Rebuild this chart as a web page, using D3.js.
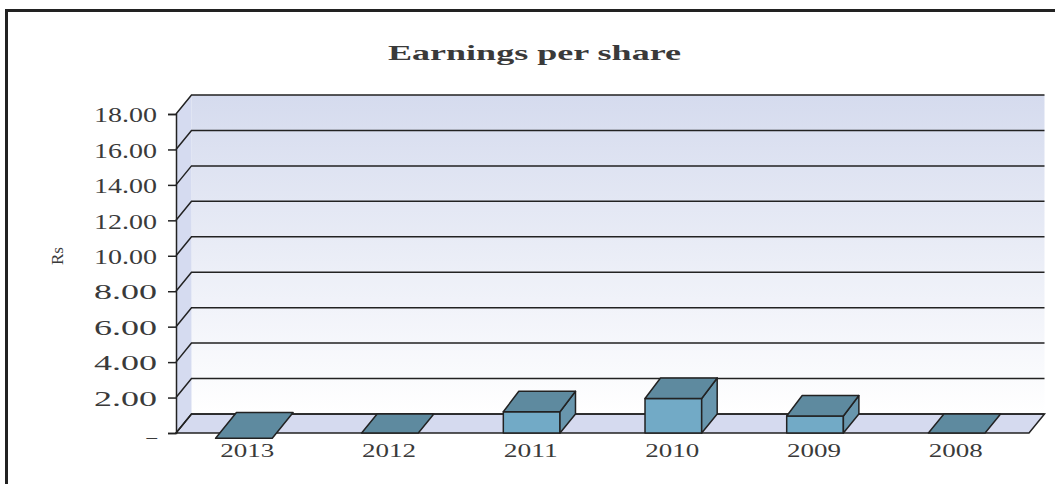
<!DOCTYPE html>
<html>
<head>
<meta charset="utf-8">
<title>Earnings per share</title>
<script src="https://cdnjs.cloudflare.com/ajax/libs/d3/7.8.5/d3.min.js"></script>
<style>
  html, body { margin: 0; padding: 0; background: #fff; overflow: hidden; }
  svg { display: block; }
  text { font-family: "Liberation Serif", serif; fill: #3a3a3a; }
</style>
</head>
<body>
<svg id="chart" width="1055" height="484"></svg>
<script>
const YEARS = ['2013', '2012', '2011', '2010', '2009', '2008'];
const EPS = [-0.3, 0, 1.2, 1.95, 0.96, 0];
const Y_TICKS = [0, 2, 4, 6, 8, 10, 12, 14, 16, 18];

const svg = d3.select('#chart'),
  plotLeft = 176, plotRight = 1029, plotBottom = 433, plotTop = 114,
  depthX = 15.5, depthY = 19, barDepthY = 20.5;

const x = d3.scaleBand().domain(YEARS).range([plotLeft, plotRight]).paddingInner(0.6).paddingOuter(0.31);
const y = d3.scaleLinear().domain([0, 18]).range([plotBottom, plotTop]);

const LINE = '#222';

function poly(pts) {
  return pts.map(function (p) { return p.join(','); }).join(' ');
}

/*
 * outer frame, cut off by the page on the right and bottom
 */
svg.append('path')
  .attr('d', 'M6.5,484V10.5H1055')
  .attr('fill', 'none')
  .attr('stroke', '#222')
  .attr('stroke-width', 3);

/*
 * title and axis caption
 */
svg.append('text')
  .text('Earnings per share')
  .attr('x', 534.5).attr('y', 60)
  .attr('text-anchor', 'middle')
  .attr('font-size', 21)
  .attr('font-weight', 'bold')
  .attr('fill', '#2a2a2a')
  .attr('textLength', 293)
  .attr('lengthAdjust', 'spacingAndGlyphs');

svg.append('text')
  .text('Rs')
  .attr('transform', 'translate(63,256) rotate(-90)')
  .attr('text-anchor', 'middle')
  .attr('font-size', 17)
  .attr('textLength', 18)
  .attr('lengthAdjust', 'spacingAndGlyphs');

/*
 * walls and floor
 */
const grad = svg.append('defs').append('linearGradient')
  .attr('id', 'wall').attr('x1', 0).attr('y1', 0).attr('x2', 0).attr('y2', 1);
grad.append('stop').attr('offset', '0%').attr('stop-color', '#d5dbee');
grad.append('stop').attr('offset', '100%').attr('stop-color', '#ffffff');

svg.append('rect')
  .attr('x', plotLeft + depthX).attr('y', y(18) - depthY)
  .attr('width', plotRight - plotLeft).attr('height', plotBottom - y(18))
  .attr('fill', 'url(#wall)');

svg.append('polygon')
  .attr('points', poly([
    [plotLeft, y(18)], [plotLeft + depthX, y(18) - depthY],
    [plotLeft + depthX, plotBottom - depthY], [plotLeft, plotBottom]
  ]))
  .attr('fill', '#d5dbf0');

svg.append('polygon')
  .attr('points', poly([
    [plotLeft, plotBottom], [plotLeft + depthX, plotBottom - depthY],
    [plotRight + depthX, plotBottom - depthY], [plotRight, plotBottom]
  ]))
  .attr('fill', '#d5daef')
  .attr('stroke', LINE)
  .attr('stroke-width', 1.5);

/*
 * gridlines on the back wall and the side wall
 */
svg.selectAll('path.grid')
  .data(Y_TICKS)
  .enter()
  .append('path')
  .attr('class', 'grid')
  .attr('d', function (d) {
    return 'M' + plotLeft + ',' + y(d) + 'L' + (plotLeft + depthX) + ',' + (y(d) - depthY) + 'H' + (plotRight + depthX);
  })
  .attr('fill', 'none')
  .attr('stroke', LINE)
  .attr('stroke-width', 1.5);

/*
 * axes
 */
const yAxis = svg.append('g')
  .attr('transform', 'translate(' + plotLeft + ',0)')
  .call(d3.axisLeft(y).tickValues(Y_TICKS).tickSizeOuter(0).tickSize(8).tickPadding(11)
    .tickFormat(function (d) { return d === 0 ? '\u2013' : d3.format('.2f')(d); }));
yAxis.selectAll('path, line').attr('stroke', LINE).attr('stroke-width', 1.5);
yAxis.selectAll('text')
  .attr('font-size', 21)
  .attr('font-family', '"Liberation Serif", serif')
  .attr('fill', '#3a3a3a')
  .attr('y', 1)
  .each(function (d) {
    if (d !== 0) {
      d3.select(this).attr('textLength', 63).attr('lengthAdjust', 'spacingAndGlyphs');
    } else {
      d3.select(this).attr('y', 3.5);
    }
  });

const xAxis = svg.append('g')
  .attr('transform', 'translate(-1,' + plotBottom + ')')
  .call(d3.axisBottom(x).tickSize(0).tickPadding(11));
xAxis.select('path').remove();
xAxis.selectAll('text')
  .attr('font-size', 18)
  .attr('font-family', '"Liberation Serif", serif')
  .attr('fill', '#3a3a3a')
  .attr('textLength', 54)
  .attr('lengthAdjust', 'spacingAndGlyphs');

/*
 * bars, a negative value only shows as a longer top face
 */
const bars = svg.selectAll('g.bar')
  .data(YEARS.map(function (year, i) { return { year: year, value: EPS[i] }; }))
  .enter()
  .append('g')
  .attr('class', 'bar')
  .attr('stroke', LINE)
  .attr('stroke-width', 1.5)
  .attr('stroke-linejoin', 'round');

bars.filter(function (d) { return d.value > 0; })
  .append('rect')
  .attr('x', function (d) { return x(d.year); })
  .attr('y', function (d) { return y(d.value); })
  .attr('width', x.bandwidth())
  .attr('height', function (d) { return plotBottom - y(d.value); })
  .attr('fill', '#72aac6');

bars.filter(function (d) { return d.value > 0; })
  .append('polygon')
  .attr('points', function (d) {
    const x1 = x(d.year) + x.bandwidth();
    return poly([
      [x1, plotBottom], [x1, y(d.value)],
      [x1 + depthX, y(d.value) - barDepthY], [x1 + depthX, plotBottom - depthY]
    ]);
  })
  .attr('fill', '#6896ad');

bars.append('polygon')
  .attr('points', function (d) {
    const x0 = x(d.year), x1 = x0 + x.bandwidth();
    if (d.value < 0) {
      const drop = y(d.value) - plotBottom,
        shift = drop * depthX / depthY;
      return poly([
        [x0 - shift, y(d.value)], [x1 - shift, y(d.value)],
        [x1 + depthX + 1, plotBottom - depthY - 1.5], [x0 + depthX + 1, plotBottom - depthY - 1.5]
      ]);
    }
    const rise = d.value > 0 ? barDepthY : depthY;
    return poly([
      [x0, y(d.value)], [x1, y(d.value)],
      [x1 + depthX, y(d.value) - rise], [x0 + depthX, y(d.value) - rise]
    ]);
  })
  .attr('fill', '#5e8a9f');
</script>
</body>
</html>
